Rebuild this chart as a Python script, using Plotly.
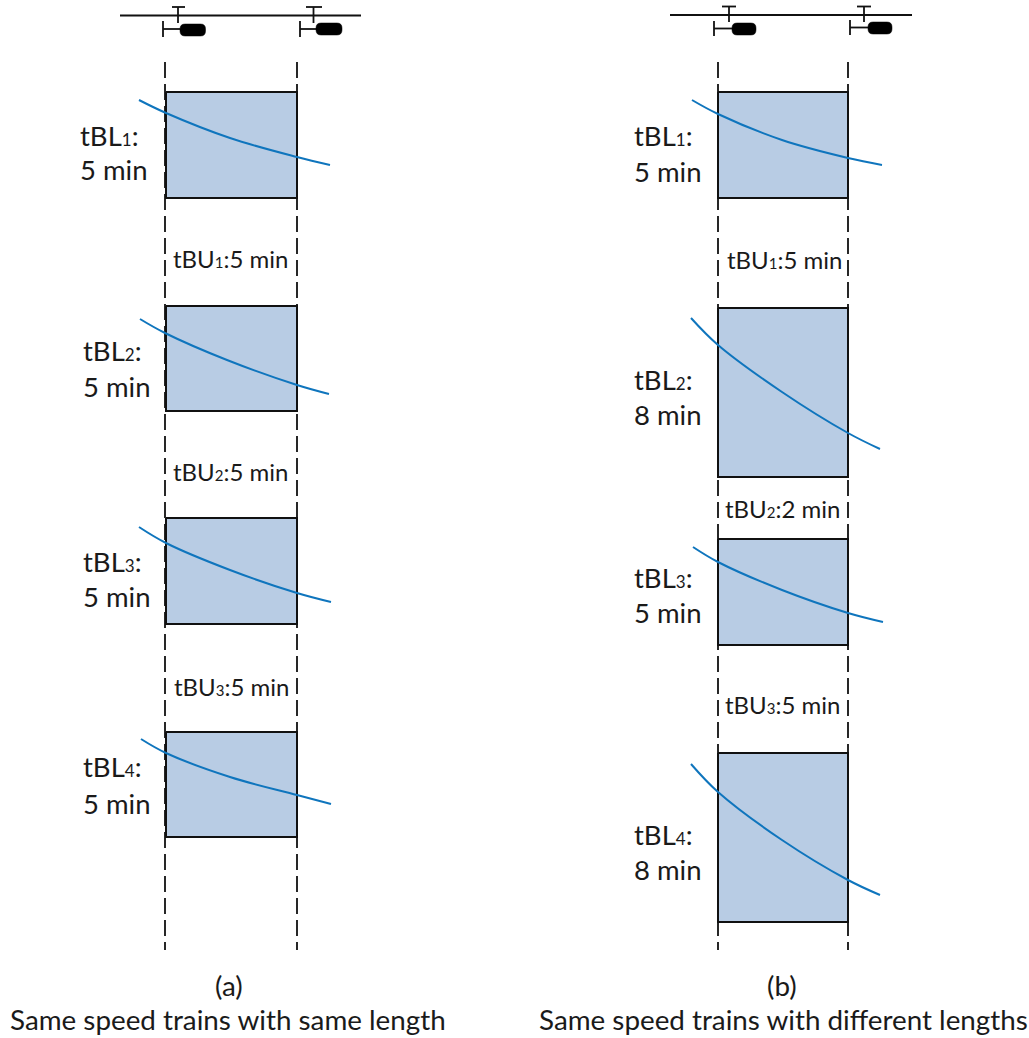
import plotly.graph_objects as go

FONT = "Lato"
INK = "#111111"
BLUE = "#0f75bd"
FILL = "#b8cce4"

# panel geometry (pixel-like units of the drawing)
box_a_x = [166, 297]
box_a_y = [[92, 198], [306, 411], [518, 624], [732, 837]]
box_b_x = [718, 848]
box_b_y = [[92, 198], [308, 477], [539, 645], [753, 922]]
guides_a = [165, 297]
guides_b = [718, 848]
guide_span = [62, 950]

curve_x_a = [[139, 166, 230, 297, 330], [140, 165, 227, 297, 329],
             [139, 166, 230, 297, 331], [141, 166, 230, 297, 331]]
curve_y_a = [[100, 113, 138, 157, 165], [319, 333, 360, 385, 394],
             [527, 543, 570, 593, 602], [739, 753, 777, 795, 804]]
curve_x_b = [[692, 718, 782, 848, 882], [691, 718, 782, 848, 880],
             [693, 718, 782, 848, 883], [691, 718, 782, 848, 880]]
curve_y_b = [[100, 114, 140, 158, 165], [318, 345, 392, 433, 449],
             [547, 562, 590, 613, 622], [764, 792, 840, 880, 895]]

tracks = [([120, 361], 15.5), ([670, 912], 15)]
signals = [(178, 172, 185, 7, 23), (313.5, 306, 322, 7, 23),
           (729, 722, 736, 6.5, 22), (864, 857, 871, 6.5, 22)]
buffers = [(163, 180, 21, 37), (300, 316, 21, 37),
           (714, 732, 21, 36), (850, 868, 20, 35)]
trains = [(180, 205.5, 24, 36), (316, 342, 23, 35),
          (732, 756, 23, 35), (868, 892, 22, 34)]

big_labels = [("tBL", "1", ":", 78, 135.5), ("tBL", "2", ":", 81, 350.5),
              ("tBL", "3", ":", 81, 561.5), ("tBL", "4", ":", 81, 766.5),
              ("tBL", "1", ":", 632, 135.5), ("tBL", "2", ":", 632, 379.5),
              ("tBL", "3", ":", 632, 577.5), ("tBL", "4", ":", 632, 834.5)]
big_values = [("5 min", 78, 169.5), ("5 min", 81, 386.5), ("5 min", 81, 596.5), ("5 min", 81, 803.5),
              ("5 min", 632, 171.5), ("8 min", 632, 414.5), ("5 min", 632, 612.5), ("8 min", 632, 869.5)]
gap_labels = [("tBU", "1", ":5 min", 170.5, 258), ("tBU", "2", ":5 min", 170.5, 471),
              ("tBU", "3", ":5 min", 171.5, 686), ("tBU", "1", ":5 min", 724.5, 259),
              ("tBU", "2", ":2 min", 722.5, 508), ("tBU", "3", ":5 min", 722.5, 704)]
captions = [("(a)", 229, 985), ("Same speed trains with same length", 228, 1019),
            ("(b)", 782, 985), ("Same speed trains with different lengths", 783, 1019)]

fig = go.Figure()


def line(x, y, color=INK, width=1.8, dash=None, shape="linear"):
    fig.add_trace(go.Scatter(x=x, y=y, mode="lines", hoverinfo="skip",
                             line=dict(color=color, width=width, dash=dash, shape=shape)))


for gx in guides_a + guides_b:
    line([gx, gx], guide_span, width=1.8, dash="16px,6px")

for bx, bys in ((box_a_x, box_a_y), (box_b_x, box_b_y)):
    for y0, y1 in bys:
        fig.add_trace(go.Scatter(x=[bx[0], bx[1], bx[1], bx[0], bx[0]], y=[y0, y0, y1, y1, y0],
                                 mode="lines", fill="toself", fillcolor=FILL, hoverinfo="skip",
                                 line=dict(color=INK, width=2)))

for xs, ys in zip(curve_x_a + curve_x_b, curve_y_a + curve_y_b):
    line(xs, ys, color=BLUE, width=2, shape="spline")

for tx, ty in tracks:
    line(tx, [ty, ty], width=2)
for sx, x0, x1, y0, y1 in signals:
    line([x0, x1], [y0, y0], width=1.8)
    line([sx, sx], [y0, y1], width=1.8)
for bx, ex, y0, y1 in buffers:
    line([bx, bx], [y0, y1], width=1.8)
    line([bx, ex], [(y0 + y1) / 2, (y0 + y1) / 2], width=1.8)

shapes = []
for x0, x1, y0, y1 in trains:
    r = 5
    shapes.append(dict(
        type="path", fillcolor="#000000", line=dict(color="#000000", width=0.5), layer="above",
        path=(f"M {x0+r} {y0} L {x1-r} {y0} Q {x1} {y0} {x1} {y0+r} L {x1} {y1-r} "
              f"Q {x1} {y1} {x1-r} {y1} L {x0+r} {y1} Q {x0} {y1} {x0} {y1-r} "
              f"L {x0} {y0+r} Q {x0} {y0} {x0+r} {y0} Z")))

ann = []


def note(text, x, y, size, anchor="left"):
    ann.append(dict(text=text, x=x, y=y, xref="x", yref="y", showarrow=False,
                    xanchor=anchor, yanchor="middle", align=anchor,
                    font=dict(family=FONT, size=size, color="#1a1a1a")))


def small(d, size):
    return f'<span style="font-size:{size}px">{d}</span>'


for head, d, tail, x, y in big_labels:
    note(head + small(d, 17) + tail, x, y, 27.5)
for t, x, y in big_values:
    note(t, x, y, 27.5)
for head, d, tail, x, y in gap_labels:
    note(head + small(d, 15) + tail, x, y, 24)
for t, x, y in captions:
    note(t, x, y, 27.8, "center")

fig.update_layout(
    width=1029, height=1038, margin=dict(l=0, r=0, t=0, b=0),
    paper_bgcolor="white", plot_bgcolor="white", showlegend=False,
    shapes=shapes, annotations=ann,
    xaxis=dict(range=[0, 1029], visible=False, fixedrange=True),
    yaxis=dict(range=[1038, 0], visible=False, fixedrange=True),
)
fig.write_html("out.html", config=dict(displayModeBar=False),
               post_script="document.body.style.margin='0';document.body.style.overflow='hidden';")
